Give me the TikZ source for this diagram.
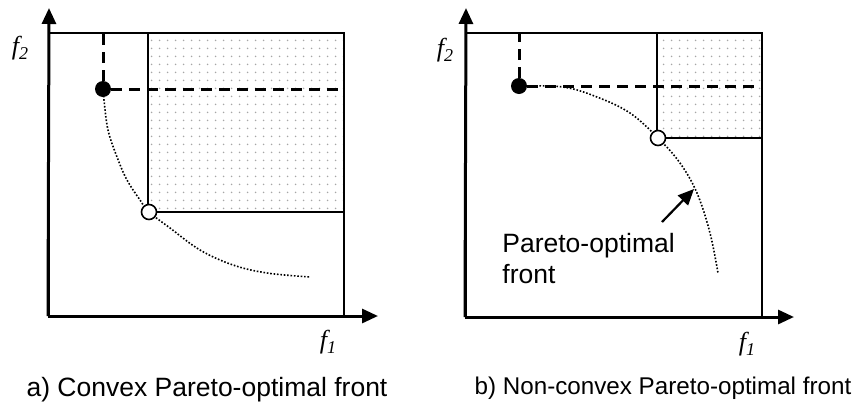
\documentclass[tikz,border=0pt]{standalone}
\usepackage{fontspec}
\setmainfont{Liberation Sans}
\newfontfamily\serifit{Liberation Serif}
\usetikzlibrary{arrows.meta,patterns.meta}
\newcommand{\flab}[1]{{\serifit\itshape\fontsize{13}{14}\selectfont f\raisebox{-2.5pt}{\fontsize{9}{10}\selectfont #1}}}

\begin{document}
\begin{tikzpicture}[
  x=0.5pt,y=-0.5pt,
  font=\fontsize{13.25}{15.5}\selectfont,
  axis/.style={line width=1.5pt,-{Triangle[length=8pt,width=7pt]}},
  frame/.style={line width=1pt},
  region/.style={frame,pattern={Dots[distance=4pt,radius=0.5pt]},pattern color=black!35},
  guide/.style={line width=1.5pt,dash pattern=on 5.5pt off 3.5pt},
  front/.style={line width=0.8pt,dash pattern=on 0.8pt off 0.9pt},
  ideal/.style={circle,fill=black,inner sep=0pt,minimum size=8pt},
  chosen/.style={circle,draw,line width=0.8pt,fill=white,inner sep=0pt,minimum size=7.5pt},
  lab/.style={inner sep=0pt},
  pointer/.style={line width=1.1pt,-{Triangle[length=8pt,width=7pt]}}
]
\useasboundingbox (0,0) rectangle (859,408);

% a) convex front
\draw[region] (148,33) rectangle (344,212);
\draw[frame] (49,33) rectangle (344,316);
\draw[axis] (48,316) -- (49,8);
\draw[axis] (48,316) -- (378,316);
\draw[front] plot[smooth,tension=0.6] coordinates {(103,89) (104,100) (108,130)
  (117,157) (127,180) (140,200) (149,212) (170,228) (200,250) (233,265)
  (267,273) (310,277)};
\node[ideal] (idA) at (103,89) {};
\node[chosen] (chA) at (149,212) {};
\draw[guide] (idA) -- (103,33);
\draw[guide] (idA) -- (344,89);
\node[lab] (f2A) at (20,48) {\flab{2}};
\node[lab] (f1A) at (328,342) {\flab{1}};
\node (capA) at (207,390) {a) Convex Pareto-optimal front};

% b) non-convex front
\draw[region] (657,33) rectangle (762,138);
\draw[frame] (466,33) rectangle (762,317);
\draw[axis] (465,317) -- (466,8);
\draw[axis] (465,317) -- (794,317);
\draw[front] plot[smooth,tension=0.6] coordinates {(519,86) (563,87) (597,97)
  (630,113) (658,138) (680,163) (697,193) (710,233) (718,273)};
\node[ideal] (idB) at (519,86) {};
\node[chosen] (chB) at (658,138) {};
\draw[guide] (idB) -- (519,33);
\draw[guide] (idB) -- (757,86);
\node[lab,align=left,anchor=north west] (pf) at (502,233) {Pareto-optimal\\front};
\coordinate (tail) at (662,222);
\coordinate (tip) at (694,189);
\draw[pointer] (tail) -- (tip);
\node[lab] (f2B) at (445,50) {\flab{2}};
\node[lab] (f1B) at (747,344) {\flab{1}};
\node[font=\fontsize{12.1}{14}\selectfont] (capB) at (663,388)
  {b) Non-convex Pareto-optimal front};
\end{tikzpicture}
\end{document}
